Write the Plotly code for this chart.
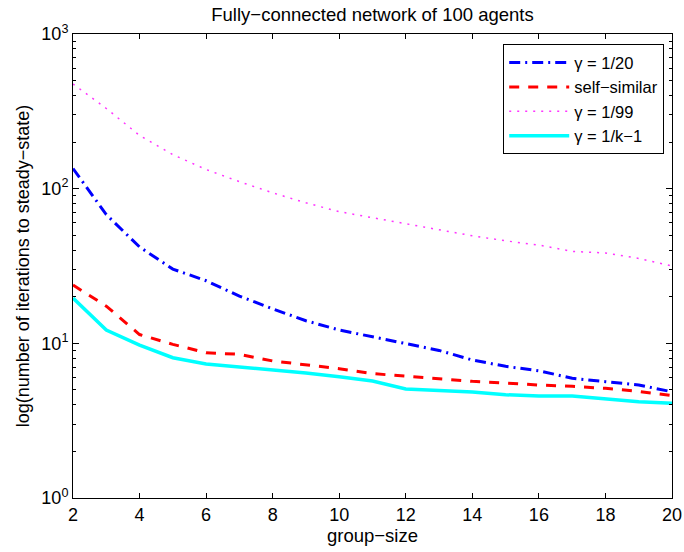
import plotly.graph_objects as go

# Group sizes on the horizontal axis
group_size = list(range(2, 21))

# Iterations to steady state for each weighting scheme
gamma_1_20 = [135, 68, 42, 30.2, 25.4, 20.2, 16.7, 14.0, 12.2, 11.0,
              10.0, 9.0, 7.8, 7.1, 6.65, 5.94, 5.65, 5.38, 4.86]
self_similar = [23.8, 17.4, 11.4, 9.85, 8.69, 8.49, 7.69, 7.28, 6.86, 6.37,
                6.12, 5.85, 5.68, 5.54, 5.37, 5.27, 5.12, 4.89, 4.59]
gamma_1_99 = [475, 330, 221, 166, 133, 111, 94, 81, 71, 64.9,
              59.3, 54.4, 49.6, 46.0, 43.2, 39.3, 38.4, 35.4, 31.6]
gamma_1_k1 = [19.6, 12.2, 9.75, 8.07, 7.35, 7.03, 6.79, 6.43, 6.09, 5.71,
              5.07, 4.97, 4.84, 4.65, 4.56, 4.56, 4.38, 4.19, 4.1]

series_names = ["γ = 1/20", "self−similar", "γ = 1/99", "γ = 1/k−1"]

# Decade tick labels for the log axis
y_tickvals = [1, 10, 100, 1000]
y_ticktext = ["10<sup>0</sup>", "10<sup>1</sup>", "10<sup>2</sup>", "10<sup>3</sup>"]
y_minor = [m * 10 ** e for e in range(3) for m in range(2, 10)]
x_tickvals = list(range(2, 21, 2))

FONT = "Liberation Sans, Arial, Helvetica, sans-serif"

fig = go.Figure()
fig.add_trace(go.Scatter(
    x=group_size, y=gamma_1_20, mode="lines", name=series_names[0],
    line=dict(color="#0000ff", width=3, dash="11px,5px,2px,5px")))
fig.add_trace(go.Scatter(
    x=group_size, y=self_similar, mode="lines", name=series_names[1],
    line=dict(color="#ff0000", width=3, dash="10px,9px")))
fig.add_trace(go.Scatter(
    x=group_size, y=gamma_1_99, mode="lines", name=series_names[2],
    line=dict(color="#ff33ff", width=1.5, dash="2px,6px")))
fig.add_trace(go.Scatter(
    x=group_size, y=gamma_1_k1, mode="lines", name=series_names[3],
    line=dict(color="#00ffff", width=3.5)))

fig.update_layout(
    width=684, height=552,
    margin=dict(l=73, r=12, t=34, b=54),
    paper_bgcolor="white", plot_bgcolor="white",
    font=dict(family=FONT, size=18, color="black"),
    title=dict(text="Fully−connected network of 100 agents",
               x=(73 + 299.5) / 684, xanchor="center",
               y=1 - 15 / 552, yanchor="middle",
               font=dict(family=FONT, size=18.5, color="black")),
    legend=dict(x=0.987, y=0.978, xanchor="right", yanchor="top",
                bgcolor="white", bordercolor="black", borderwidth=1,
                font=dict(family=FONT, size=16.5, color="black"),
                tracegroupgap=0, itemwidth=60),
    showlegend=True,
)

fig.update_xaxes(
    range=[2, 20], tickvals=x_tickvals, ticks="inside", ticklen=5,
    tickcolor="black", showline=True, linecolor="black", linewidth=1,
    mirror="ticks", showgrid=False, zeroline=False, automargin=False,
    tickfont=dict(family=FONT, size=18),
    title=dict(text="group−size", font=dict(family=FONT, size=18.5), standoff=4),
)
fig.update_yaxes(
    type="log", range=[0, 3], tickvals=y_tickvals, ticktext=y_ticktext,
    ticks="inside", ticklen=6, tickcolor="black",
    minor=dict(tickvals=y_minor, ticks="inside", ticklen=3,
               tickcolor="black", showgrid=False),
    showline=True, linecolor="black", linewidth=1, mirror="ticks",
    showgrid=False, zeroline=False, automargin=False,
    tickfont=dict(family=FONT, size=18),
    title=dict(text="log(number of iterations to steady−state)",
               font=dict(family=FONT, size=18), standoff=7),
)

fig.write_html("out.html")
